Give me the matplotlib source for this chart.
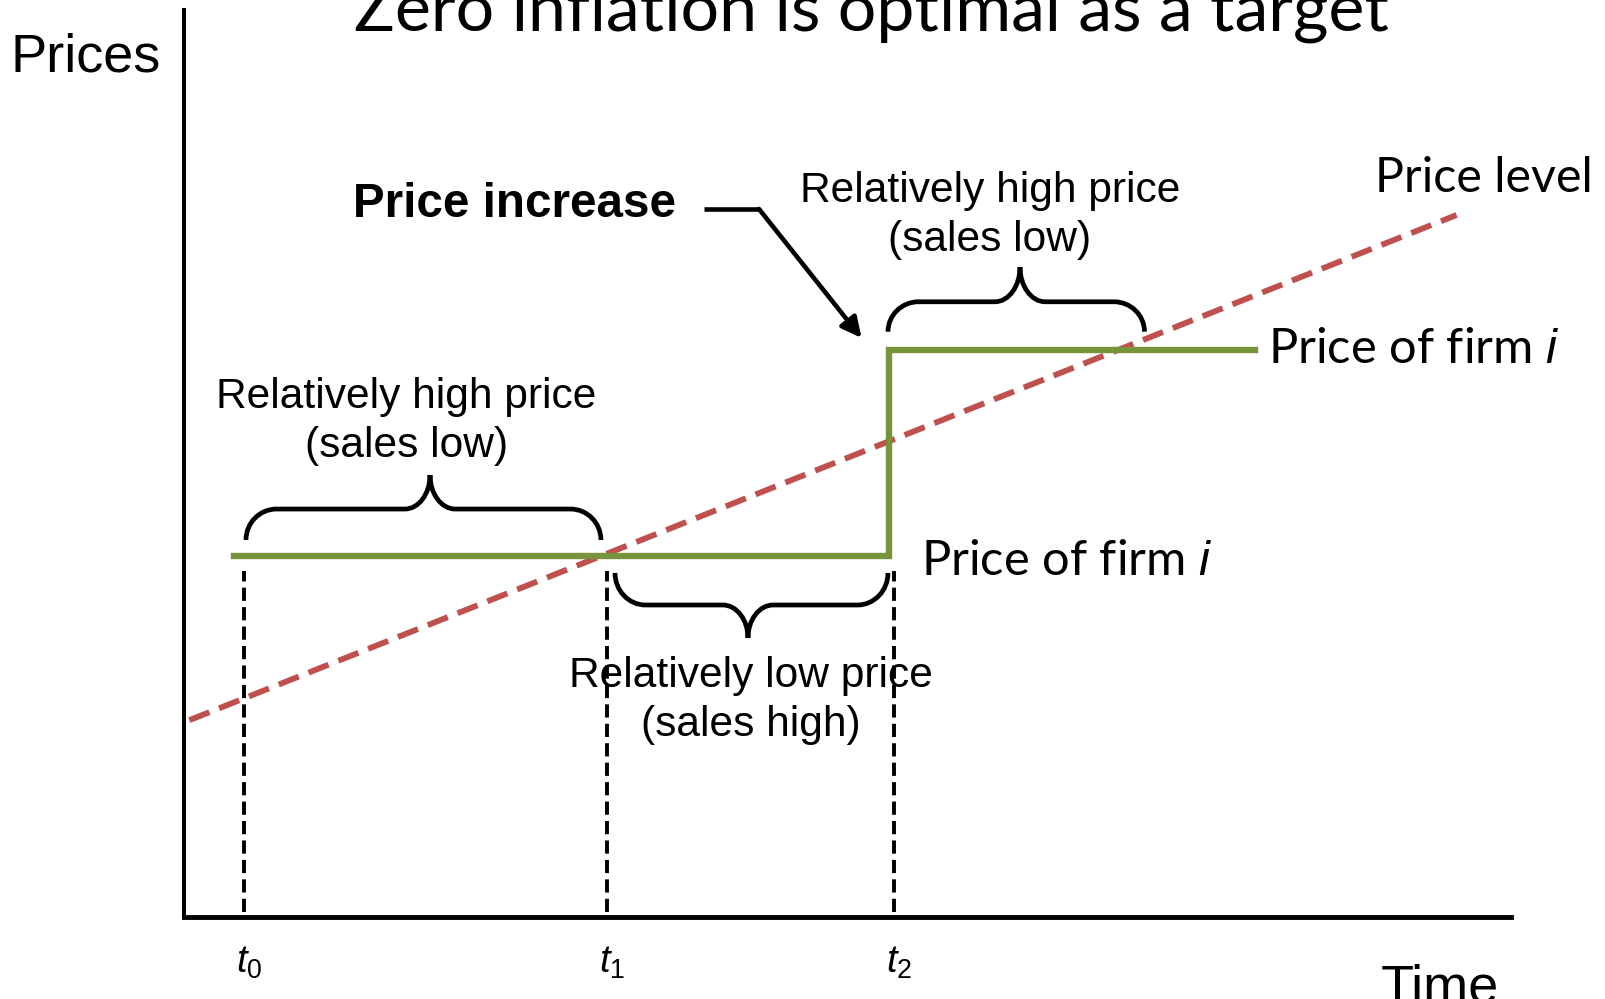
import matplotlib
matplotlib.use("Agg")
import matplotlib.pyplot as plt
from matplotlib.path import Path
from matplotlib.patches import PathPatch

plt.rcParams['mathtext.fontset'] = 'custom'
plt.rcParams['mathtext.rm'] = 'Liberation Sans'
plt.rcParams['mathtext.it'] = 'Liberation Sans:italic'

# time points and price levels (axis units 0-100)
t_points = [4.5, 31.9, 53.5]
t_labels = [r'$t_0$', r'$t_1$', r'$t_2$']
firm_x = [3.75, 53.1, 53.1, 80.7]
firm_y = [39.75, 39.75, 62.5, 62.5]
level_x = [0.4, 95.9]
level_y = [21.7, 77.4]
dash_top = 38.2

# braces: x start, x end, cusp x, tip y, line y, cusp y
braces = [
    (4.67, 31.42, 18.54, 41.57, 44.98, 48.73),
    (32.48, 53.05, 42.5, 37.93, 34.4, 30.76),
    (53.05, 72.38, 63.0, 64.53, 67.83, 71.66),
]

GREEN = '#77933C'
RED = '#C0504D'
ARIAL = 'Liberation Sans'
CAL = 'Lato'


def brace_path(x0, x1, xc, y_tip, y_line, y_cusp, rx=2.3, rc=1.9):
    k = 0.5523
    verts = [
        (x0, y_tip),
        (x0, y_tip + k * (y_line - y_tip)), (x0 + rx * (1 - k), y_line), (x0 + rx, y_line),
        (xc - rc, y_line),
        (xc - rc + k * rc, y_line), (xc, y_cusp - k * (y_cusp - y_line)), (xc, y_cusp),
        (xc, y_cusp - k * (y_cusp - y_line)), (xc + rc - k * rc, y_line), (xc + rc, y_line),
        (x1 - rx, y_line),
        (x1 - rx * (1 - k), y_line), (x1, y_tip + k * (y_line - y_tip)), (x1, y_tip),
    ]
    codes = [Path.MOVETO,
             Path.CURVE4, Path.CURVE4, Path.CURVE4,
             Path.LINETO,
             Path.CURVE4, Path.CURVE4, Path.CURVE4,
             Path.CURVE4, Path.CURVE4, Path.CURVE4,
             Path.LINETO,
             Path.CURVE4, Path.CURVE4, Path.CURVE4]
    return Path(verts, codes)


fig = plt.figure(figsize=(16.06, 9.99), dpi=100)
ax = fig.add_axes([184 / 1606, 82 / 999, 1327 / 1606, 907 / 999])
ax.set_xlim(0, 100)
ax.set_ylim(0, 100)
ax.set_xticks([])
ax.set_yticks([])
for s in ['top', 'right']:
    ax.spines[s].set_visible(False)
ax.spines['left'].set_linewidth(2.9)
ax.spines['bottom'].set_linewidth(3.5)

# vertical dashed markers
for t in t_points:
    ax.plot([t, t], [0.5, dash_top], color='black', lw=2.8,
            linestyle=(0, (3.4, 1.6)), dash_capstyle='butt')

ax.plot(level_x, level_y, color=RED, lw=4.2, linestyle=(0, (3.7, 1.8)),
        dash_capstyle='butt')
ax.plot(firm_x, firm_y, color=GREEN, lw=4.6, solid_joinstyle='miter')

for b in braces:
    ax.add_patch(PathPatch(brace_path(*b), fill=False, lw=3.4, color='black',
                           capstyle='butt'))

# arrow from "Price increase"
ax.plot([39.16, 43.33], [78.06, 78.06], color='black', lw=3.3, solid_capstyle='butt')
ax.annotate('', xy=(51.06, 63.84), xytext=(43.33, 78.06),
            arrowprops=dict(arrowstyle='-|>', color='black', lw=3.3,
                            mutation_scale=30, shrinkA=0, shrinkB=0))

for t, lab in zip(t_points, t_labels):
    ax.text(t - 0.6, -6.1, lab, fontsize=27.5, ha='left', va='baseline', clip_on=False)

ax.text(51.77, 97.75, 'Zero inflation is optimal as a target', family=CAL, fontsize=49,
        ha='center', va='baseline', clip_on=False)
ax.text(-13.1, 93.2, 'Prices', family=ARIAL, fontsize=39, ha='left', va='baseline',
        clip_on=False)
ax.text(90.2, -9.48, 'Time', family=ARIAL, fontsize=39, ha='left', va='baseline',
        clip_on=False)
ax.text(89.75, 79.97, 'Price level', family=CAL, fontsize=34.8, ha='left', va='baseline',
        clip_on=False)
ax.text(81.69, 61.08, 'Price of firm $i$', family=CAL, fontsize=35.2, ha='left',
        va='baseline', clip_on=False)
ax.text(55.54, 37.7, 'Price of firm $i$', family=CAL, fontsize=35.2, ha='left',
        va='baseline', clip_on=False)
ax.text(12.74, 77.2, 'Price increase', family=ARIAL, fontsize=34.3, weight='bold',
        ha='left', va='baseline')

ax.text(60.74, 78.83, 'Relatively high price', family=ARIAL, fontsize=30.6, ha='center', va='baseline')
ax.text(60.74, 73.43, '(sales low)', family=ARIAL, fontsize=30.6, ha='center', va='baseline')
ax.text(16.77, 56.12, 'Relatively high price', family=ARIAL, fontsize=30.6, ha='center', va='baseline')
ax.text(16.77, 50.72, '(sales low)', family=ARIAL, fontsize=30.6, ha='center', va='baseline')
ax.text(42.73, 25.36, 'Relatively low price', family=ARIAL, fontsize=30.6, ha='center', va='baseline')
ax.text(42.73, 19.96, '(sales high)', family=ARIAL, fontsize=30.6, ha='center', va='baseline')

fig.savefig('out.png', dpi=100)
